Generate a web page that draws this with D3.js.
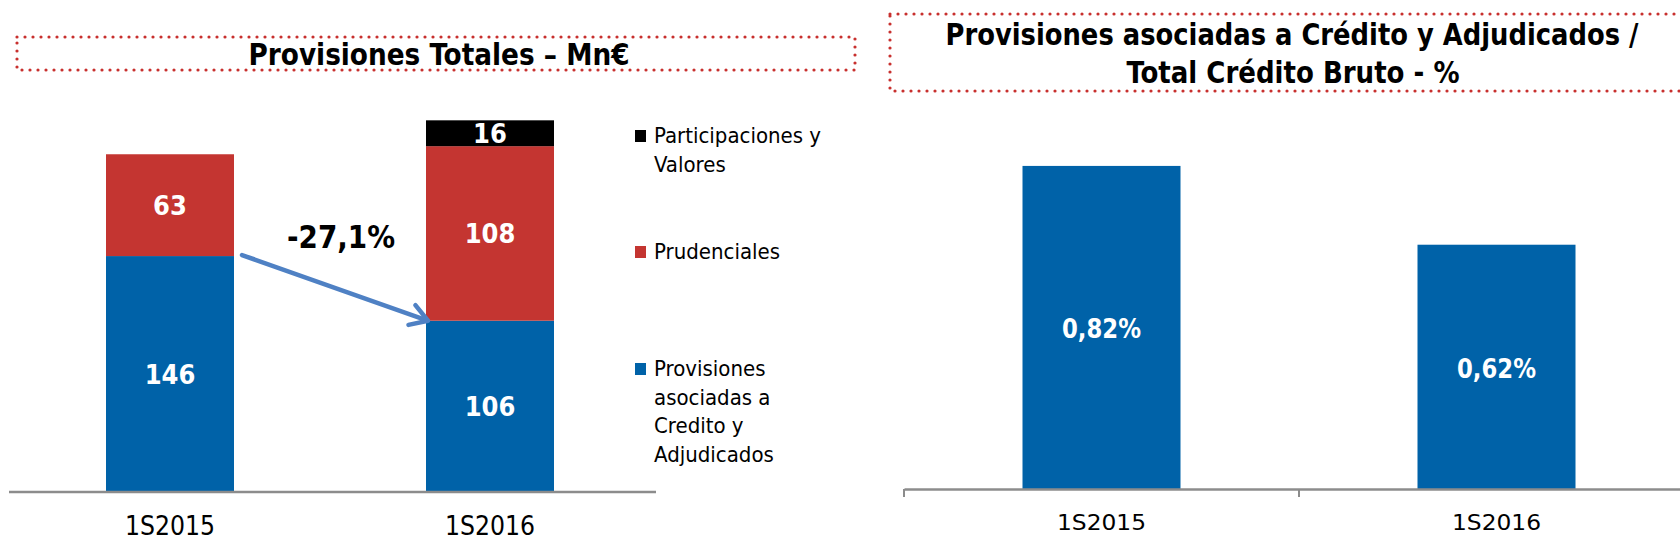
<html>
  <head>
    <meta charset="utf-8" />
    <title>Provisiones</title>
    <script src="https://d3js.org/d3.v7.min.js"></script>
    <style type="text/css">
      body { margin: 0; background: white; }
      text { font-family: "Liberation Sans Narrow", "DejaVu Sans Condensed", "Roboto", sans-serif; }
    </style>
  </head>
  <body>
    <div id="chart"></div>
    <script type="text/javascript">
      // data
      var periodos = ["1S2015", "1S2016"];
      var credito = [146, 106];
      var prudenciales = [63, 108];
      var participaciones = [0, 16];
      var ratio = [0.82, 0.62];
      var ratioLabels = ["0,82%", "0,62%"];
      var variacion = "-27,1%";
      var leyenda = [
        { nombre: ["Participaciones y", "Valores"], color: "#000000" },
        { nombre: ["Prudenciales"], color: "#C43531" },
        { nombre: ["Provisiones", "asociadas a", "Credito y", "Adjudicados"], color: "#0062A8" }
      ];

      var width = 1680, height = 560;
      var blue = "#0062A8", red = "#C43531", dots = "#C8302E";

      var svg = d3.select("#chart").append("svg")
          .attr("width", width)
          .attr("height", height);

      function dottedBox(x, y, w, h) {
        svg.append("rect")
          .attr("x", x).attr("y", y).attr("width", w).attr("height", h)
          .style("fill", "none")
          .style("stroke", dots)
          .style("stroke-width", 3.2)
          .style("stroke-linecap", "round")
          .style("stroke-dasharray", "0 8");
      }

      // ---------- left chart: Provisiones Totales ----------
      dottedBox(17, 37, 838, 33);
      svg.append("text")
        .attr("x", 439).attr("y", 65)
        .attr("text-anchor", "middle")
        .attr("textLength", 381).attr("lengthAdjust", "spacingAndGlyphs")
        .style("font-size", "30px").style("font-weight", "bold")
        .text("Provisiones Totales – Mn€");

      var x1 = d3.scaleBand().domain(periodos).range([10, 650]);
      var y1 = d3.scaleLinear().domain([0, 250]).range([492, 88]);
      var bw1 = x1.bandwidth() * 0.4;

      var stackData = periodos.map(function(p, i) {
        return { periodo: p, credito: credito[i], prudenciales: prudenciales[i], participaciones: participaciones[i] };
      });
      var keys = ["credito", "prudenciales", "participaciones"];
      var colors = { credito: blue, prudenciales: red, participaciones: "#000000" };
      var series = d3.stack().keys(keys)(stackData);

      series.forEach(function(s) {
        s.forEach(function(d, i) {
          var v = d[1] - d[0];
          if (v <= 0) return;
          var cx = x1(periodos[i]) + x1.bandwidth() / 2;
          svg.append("rect")
            .attr("x", cx - bw1 / 2)
            .attr("y", y1(d[1]))
            .attr("width", bw1)
            .attr("height", y1(d[0]) - y1(d[1]))
            .style("fill", colors[s.key]);
          svg.append("text")
            .attr("x", cx)
            .attr("y", (y1(d[0]) + y1(d[1])) / 2 + 10)
            .attr("text-anchor", "middle")
            .style("font-size", "27px").style("font-weight", "bold")
            .style("fill", "white")
            .text(v);
        });
      });

      // axis
      svg.append("line")
        .attr("x1", 9).attr("x2", 656)
        .attr("y1", y1(0)).attr("y2", y1(0))
        .style("stroke", "#8C8C8C").style("stroke-width", 2.5);
      periodos.forEach(function(p) {
        svg.append("text")
          .attr("x", x1(p) + x1.bandwidth() / 2).attr("y", 535)
          .attr("text-anchor", "middle")
          .attr("textLength", 90).attr("lengthAdjust", "spacingAndGlyphs")
          .style("font-size", "27px")
          .text(p);
      });

      // arrow
      var c0 = x1(periodos[0]) + x1.bandwidth() / 2 + bw1 / 2;
      var c1 = x1(periodos[1]) + x1.bandwidth() / 2 - bw1 / 2;
      var ax0 = c0 + 8, ay0 = y1(credito[0]) - 1, ax1 = c1 + 2, ay1 = y1(credito[1]);
      var ang = Math.atan2(ay1 - ay0, ax1 - ax0);
      svg.append("line")
        .attr("x1", ax0).attr("y1", ay0).attr("x2", ax1 - 2 * Math.cos(ang)).attr("y2", ay1 - 2 * Math.sin(ang))
        .style("stroke", "#4F81C4").style("stroke-width", 4.5).style("stroke-linecap", "round");
      var head = 20, spread = 0.55;
      svg.append("path")
        .attr("d", "M" + (ax1 - head * Math.cos(ang - spread)) + "," + (ay1 - head * Math.sin(ang - spread)) +
          "L" + ax1 + "," + ay1 +
          "L" + (ax1 - head * Math.cos(ang + spread)) + "," + (ay1 - head * Math.sin(ang + spread)))
        .style("fill", "none").style("stroke", "#4F81C4").style("stroke-width", 4.5)
        .style("stroke-linecap", "round").style("stroke-linejoin", "round");

      svg.append("text")
        .attr("x", 341).attr("y", 248)
        .attr("text-anchor", "middle")
        .attr("textLength", 108).attr("lengthAdjust", "spacingAndGlyphs")
        .style("font-size", "32px").style("font-weight", "bold")
        .text(variacion);

      // legend
      var legY = [130, 246, 363];
      leyenda.forEach(function(l, i) {
        svg.append("rect")
          .attr("x", 635).attr("y", legY[i])
          .attr("width", 11).attr("height", 12)
          .style("fill", l.color);
        l.nombre.forEach(function(line, j) {
          svg.append("text")
            .attr("x", 654).attr("y", legY[i] + 13 + j * 28.5)
            .style("font-size", "22px")
            .text(line);
        });
      });

      // ---------- right chart: ratio ----------
      dottedBox(890, 14, 820, 77);
      svg.append("text")
        .attr("x", 1292).attr("y", 45)
        .attr("text-anchor", "middle")
        .attr("textLength", 693).attr("lengthAdjust", "spacingAndGlyphs")
        .style("font-size", "30px").style("font-weight", "bold")
        .text("Provisiones asociadas a Crédito y Adjudicados /");
      svg.append("text")
        .attr("x", 1293).attr("y", 83)
        .attr("text-anchor", "middle")
        .attr("textLength", 333).attr("lengthAdjust", "spacingAndGlyphs")
        .style("font-size", "30px").style("font-weight", "bold")
        .text("Total Crédito Bruto - %");

      var x2 = d3.scaleBand().domain(periodos).range([904, 1694]);
      var y2 = d3.scaleLinear().domain([0, 1]).range([489, 95]);
      var bw2 = x2.bandwidth() * 0.4;

      svg.selectAll(".ratio")
        .data(ratio)
        .enter().append("rect")
        .attr("x", function(d, i) { return x2(periodos[i]) + x2.bandwidth() / 2 - bw2 / 2; })
        .attr("y", function(d) { return y2(d); })
        .attr("width", bw2)
        .attr("height", function(d) { return y2(0) - y2(d); })
        .style("fill", blue);

      svg.selectAll(".ratioLabel")
        .data(ratio)
        .enter().append("text")
        .attr("x", function(d, i) { return x2(periodos[i]) + x2.bandwidth() / 2; })
        .attr("y", function(d) { return (y2(d) + y2(0)) / 2 + 11; })
        .attr("text-anchor", "middle")
        .attr("textLength", 79).attr("lengthAdjust", "spacingAndGlyphs")
        .style("font-size", "27px").style("font-weight", "bold")
        .style("fill", "white")
        .text(function(d, i) { return ratioLabels[i]; });

      var axis2 = d3.axisBottom(x2).tickSize(0).tickPadding(0);
      var g2 = svg.append("g").attr("transform", "translate(0," + y2(0) + ")").call(axis2);
      g2.select(".domain").style("stroke", "#8C8C8C").style("stroke-width", 2.5);
      g2.selectAll(".tick text").remove();
      [904, 1299, 1694].forEach(function(tx) {
        g2.append("line").attr("x1", tx).attr("x2", tx).attr("y1", 0).attr("y2", 8)
          .style("stroke", "#8C8C8C").style("stroke-width", 2);
      });
      periodos.forEach(function(p) {
        svg.append("text")
          .attr("x", x2(p) + x2.bandwidth() / 2).attr("y", 530)
          .attr("text-anchor", "middle")
          .attr("textLength", 89).attr("lengthAdjust", "spacingAndGlyphs")
          .style("font-family", "'DejaVu Sans Condensed', 'Liberation Sans Narrow', sans-serif")
          .style("font-size", "22px")
          .text(p);
      });
    </script>
  </body>
</html>
